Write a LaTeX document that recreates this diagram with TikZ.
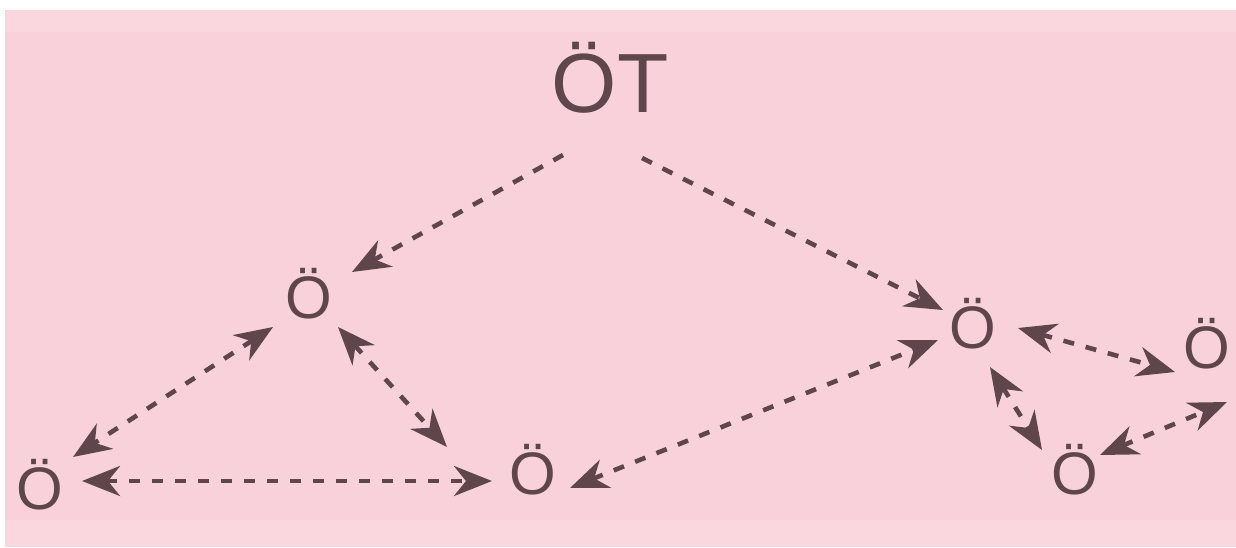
\documentclass[tikz,border=0pt]{standalone}
\usepackage{fontspec}
\setmainfont{Liberation Sans}
\usetikzlibrary{arrows.meta,calc}
\definecolor{bg}{RGB}{249,209,219}
\definecolor{bgl}{RGB}{250,215,223}
\definecolor{ink}{RGB}{94,70,76}
\begin{document}
\begin{tikzpicture}[x=0.5pt,y=-0.5pt,
  lbl/.style={text=ink, inner sep=0pt, font=\fontsize{30}{30}\selectfont},
  big/.style={text=ink, inner sep=0pt, font=\fontsize{42}{42}\selectfont},
  tip/.tip={Stealth[length=19pt,width=15pt,inset=6pt]},
  link/.style={draw=ink, line width=2.3pt, dash pattern=on 5.5pt off 6pt, -tip},
  both/.style={draw=ink, line width=2.3pt, dash pattern=on 5.5pt off 6pt, tip-tip}
]
\useasboundingbox (0,0) rectangle (1236,547);
\fill[white] (0,0) rectangle (1236,547);
\fill[bg] (5,10) rectangle (1236,547);
\fill[bgl] (5,10) rectangle (1236,32);
\fill[bgl] (5,520) rectangle (1236,547);

\node[big] (T) at (610,78) {ÖT};
\node[lbl] (o1) at (309,294) {Ö};
\node[lbl] (o2) at (40,485) {Ö};
\node[lbl] (o3) at (533,470) {Ö};
\node[lbl] (o4) at (973,324) {Ö};
\node[lbl] (o5) at (1207,344) {Ö};
\node[lbl] (o6) at (1075,470) {Ö};

\draw[link] ([shift={(-47,77)}]T.center) -- ([shift={(43,-22)}]o1.center);
\draw[link] ([shift={(32,80)}]T.center) -- ([shift={(-30,-14)}]o4.center);
\draw[both] ([shift={(-36,33)}]o1.center) -- ([shift={(33,-28)}]o2.center);
\draw[both] ([shift={(37,18)}]o3.center) -- ([shift={(-35,16)}]o4.center);
\draw[both] ([shift={(42,-4)}]o2.center) -- ([shift={(-41,11)}]o3.center);
\draw[both] ([shift={(29,33)}]o1.center) -- ([shift={(-86,-23)}]o3.center);
\draw[both] ([shift={(45,4)}]o4.center) -- ([shift={(-32,28)}]o5.center);
\draw[both] ([shift={(17,43)}]o4.center) -- ([shift={(-33,-20)}]o6.center);
\draw[both] ([shift={(25,-15)}]o6.center) -- ([shift={(20,58)}]o5.center);
\end{tikzpicture}
\end{document}
